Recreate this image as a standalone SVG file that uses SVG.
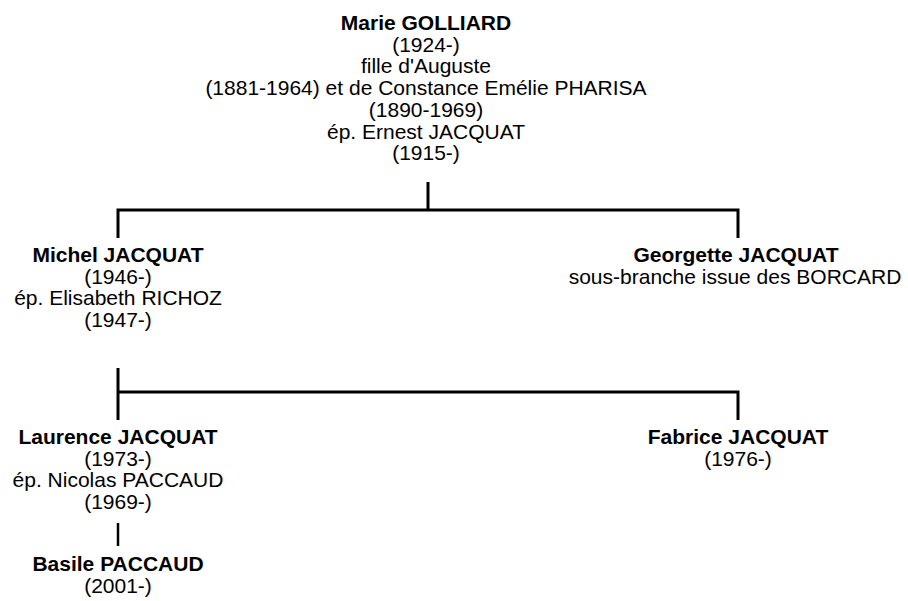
<svg xmlns="http://www.w3.org/2000/svg" width="908" height="601" viewBox="0 0 908 601">
<style>
text{font-family:"Liberation Sans",Arial,sans-serif;font-size:21px;fill:#000;text-anchor:middle}
.b{font-weight:bold}
.c{stroke:#000;stroke-width:3;fill:none}
</style>
<rect width="908" height="601" fill="#fff"/>
<g id="connectors">
<path class="c" d="M428,182V210M118,238V210H738V238"/>
<path class="c" d="M118,368V420M118,392H738V420"/>
<path class="c" d="M118,523V546" style="stroke-width:2.5"/>
</g>
<g id="marie">
<text x="426" y="30" class="b">Marie GOLLIARD</text>
<text x="426" y="51.7">(1924-)</text>
<text x="426" y="73.4">fille d'Auguste</text>
<text x="426" y="95">(1881-1964) et de Constance Emélie PHARISA</text>
<text x="426" y="116.8">(1890-1969)</text>
<text x="426" y="138.5">ép. Ernest JACQUAT</text>
<text x="426" y="160.2">(1915-)</text>
</g>
<g id="michel">
<text x="118" y="262" class="b">Michel JACQUAT</text>
<text x="118" y="283.7">(1946-)</text>
<text x="118" y="305.4">ép. Elisabeth RICHOZ</text>
<text x="118" y="327">(1947-)</text>
</g>
<g id="georgette">
<text x="736" y="262" class="b">Georgette JACQUAT</text>
<text x="735" y="283.7">sous-branche issue des BORCARD</text>
</g>
<g id="laurence">
<text x="118" y="444" class="b">Laurence JACQUAT</text>
<text x="118" y="465.7">(1973-)</text>
<text x="118" y="487.4">ép. Nicolas PACCAUD</text>
<text x="118" y="509">(1969-)</text>
</g>
<g id="fabrice">
<text x="738" y="444" class="b">Fabrice JACQUAT</text>
<text x="738" y="465.7">(1976-)</text>
</g>
<g id="basile">
<text x="118" y="571" class="b">Basile PACCAUD</text>
<text x="118" y="593">(2001-)</text>
</g>
</svg>
